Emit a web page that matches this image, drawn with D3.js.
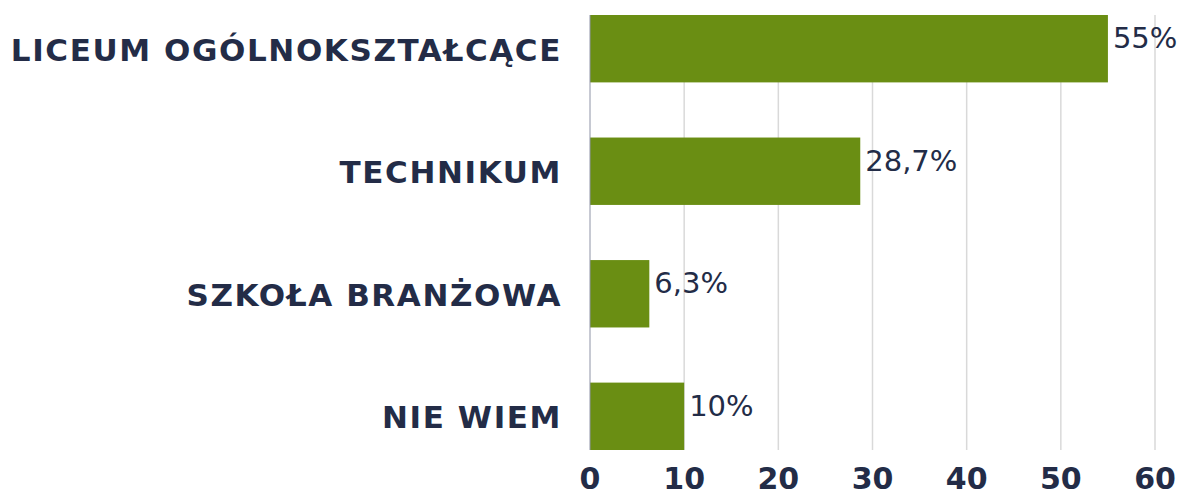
<!DOCTYPE html>
<html lang="pl">
<head>
<meta charset="utf-8">
<title>Typ szkoły</title>
<script src="https://cdn.jsdelivr.net/npm/d3@7"></script>
<style>
  body { margin: 0; padding: 0; background: #fff; }
  svg { display: block; }
</style>
</head>
<body>
<svg id="chart"></svg>
<script>
const categories = ['LICEUM OGÓLNOKSZTAŁCĄCE', 'TECHNIKUM', 'SZKOŁA BRANŻOWA', 'NIE WIEM'];
const values = [55, 28.7, 6.3, 10];
const valueLabels = ['55%', '28,7%', '6,3%', '10%'];
const ticks = [0, 10, 20, 30, 40, 50, 60];

const width = 1183, height = 495;
const navy = '#232c47';
const green = '#6a8e13';

const svg = d3.select('#chart').attr('width', width).attr('height', height);

const x = d3.scaleLinear().domain([0, 60]).range([590, 1155]);
const y = d3.scaleBand().domain(categories).range([15, 450]).paddingInner(0.45).paddingOuter(0);

// gridlines
svg.append('g')
  .selectAll('line')
  .data(ticks.slice(1))
  .join('line')
  .attr('x1', d => x(d)).attr('x2', d => x(d))
  .attr('y1', 15).attr('y2', 450)
  .attr('stroke', '#d9d9d9')
  .attr('stroke-width', 1.5);

// bars
svg.append('g')
  .selectAll('rect')
  .data(values)
  .join('rect')
  .attr('x', x(0))
  .attr('y', (d, i) => y(categories[i]))
  .attr('width', d => x(d) - x(0))
  .attr('height', y.bandwidth())
  .attr('fill', green);

// y axis line
svg.append('line')
  .attr('x1', x(0)).attr('x2', x(0))
  .attr('y1', 15).attr('y2', 450)
  .attr('stroke', '#8e93a6')
  .attr('stroke-width', 1);

// value labels
svg.append('g')
  .selectAll('text')
  .data(values)
  .join('text')
  .attr('x', d => x(d) + 5)
  .attr('y', (d, i) => y(categories[i]) + 33)
  .attr('fill', navy)
  .attr('font-family', 'DejaVu Sans, sans-serif')
  .attr('font-size', 29)
  .text((d, i) => valueLabels[i]);

// category labels
svg.append('g')
  .selectAll('text')
  .data(categories)
  .join('text')
  .attr('x', 562)
  .attr('y', d => y(d) + y.bandwidth() / 2 + 12)
  .attr('text-anchor', 'end')
  .attr('fill', navy)
  .attr('font-family', 'DejaVu Sans, sans-serif')
  .attr('font-weight', 'bold')
  .attr('font-size', 31)
  .attr('letter-spacing', 1.6)
  .text(d => d);

// x axis tick labels
svg.append('g')
  .selectAll('text')
  .data(ticks)
  .join('text')
  .attr('x', d => x(d))
  .attr('y', 489)
  .attr('text-anchor', 'middle')
  .attr('fill', navy)
  .attr('font-family', 'DejaVu Sans, sans-serif')
  .attr('font-weight', 'bold')
  .attr('font-size', 30)
  .text(d => d);
</script>
</body>
</html>
